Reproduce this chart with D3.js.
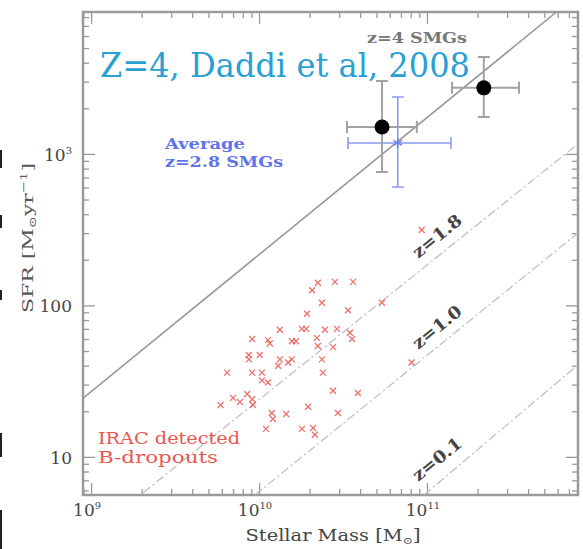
<!DOCTYPE html>
<html>
<head>
<meta charset="utf-8">
<script src="https://cdn.jsdelivr.net/npm/d3@7"></script>
<style>
  body { margin: 0; background: #fff; }
  text { font-family: "DejaVu Serif", serif; }
</style>
</head>
<body>
<svg width="583" height="549"></svg>
<script>
// axis ranges (stellar mass in Msun, SFR in Msun/yr)
const massDomain = [8.95e8, 7.93e11];
const sfrDomain = [5.6, 8650];
const xLabelValues = [1e9, 1e10, 1e11];
const xLabelExp = ['9', '10', '11'];
const yLabelValues = [1e3, 100, 10];
const yLabelText = [['10', '3'], ['100', ''], ['10', '']];

// SFR-mass relations, read as two end points each
const relationNames = ['z=4 SMGs', 'z=1.8', 'z=1.0', 'z=0.1'];
const relationMass = [[9.0e8, 5.9e11], [2.04e9, 7.93e11], [9.46e9, 7.93e11], [9.6e10, 7.93e11]];
const relationSfr = [[24.5, 8650], [5.8, 1164], [5.6, 301], [5.6, 40.5]];

// IRAC detected B-dropouts
const dropMass = [2.24e10, 2.83e10, 3.63e10, 2.07e10, 2.37e10, 1.93e10, 3.39e10, 5.40e10,
  1.33e10, 1.80e10, 1.91e10, 2.47e10, 2.91e10, 3.48e10, 3.58e10, 9.1e9, 1.13e10, 1.16e10,
  1.57e10, 1.66e10, 2.21e10, 2.24e10, 2.76e10, 8.7e9, 8.7e9, 1.01e10, 1.33e10, 1.30e10,
  1.49e10, 1.57e10, 2.37e10, 6.46e9, 9.1e9, 1.04e10, 1.04e10, 1.13e10, 2.40e10, 8.1e10,
  8.5e9, 7.0e9, 7.7e9, 9.1e9, 5.9e9, 9.2e9, 1.96e10, 1.45e10, 1.19e10, 1.21e10,
  2.76e10, 3.88e10, 2.95e10, 1.10e10, 1.80e10, 2.10e10, 2.15e10, 9.3e10];
const dropSfr = [141, 143, 143, 126, 104, 88, 93, 104,
  69, 70, 70, 69, 70, 66, 60, 60, 59, 56,
  58, 58, 61, 54, 53, 47, 44, 47, 44, 40,
  42, 44, 44, 36, 36, 36, 32, 31, 36, 42,
  26, 24.5, 23, 24, 22, 22, 21.4, 19.2, 19.5, 17.8,
  27.3, 26.4, 19.5, 15.3, 15.3, 15.5, 14.0, 315];

// z=4 SMGs with error bars
const smgMass = [5.4e10, 2.18e11];
const smgMassLo = [3.34e10, 1.41e11];
const smgMassHi = [8.7e10, 3.53e11];
const smgSfr = [1507, 2730];
const smgSfrLo = [760, 1755];
const smgSfrHi = [3030, 4365];

// average z=2.8 SMGs
const avgMass = [6.7e10];
const avgMassLo = [3.39e10];
const avgMassHi = [1.39e11];
const avgSfr = [1182];
const avgSfrLo = [605];
const avgSfrHi = [2377];

const svg = d3.select('svg');
const frameLeft = 83, frameRight = 578, frameTop = 12, frameBottom = 495;

const x = d3.scaleLog().domain(massDomain).range([frameLeft, frameRight]);
const y = d3.scaleLog().domain(sfrDomain).range([frameBottom, frameTop]);

const axisGrey = '#9a9a9a';
const isMajor = (v) => Math.abs(Math.log10(v) - Math.round(Math.log10(v))) < 1e-6;
const tickLen = (v) => isMajor(v) ? 12 : 6;

// ticks on all four sides, pointing inwards
function styleTicks(g, attr, sign) {
  g.select('.domain').remove();
  g.selectAll('.tick text').remove();
  g.selectAll('.tick line')
    .attr(attr, (d) => sign * tickLen(d))
    .attr('stroke', axisGrey)
    .attr('stroke-width', 1.3);
}
svg.append('g').attr('transform', `translate(0,${frameBottom})`)
  .call(d3.axisBottom(x).ticks(20)).call((g) => styleTicks(g, 'y2', -1));
svg.append('g').attr('transform', `translate(0,${frameTop})`)
  .call(d3.axisTop(x).ticks(20)).call((g) => styleTicks(g, 'y2', 1));
svg.append('g').attr('transform', `translate(${frameLeft},0)`)
  .call(d3.axisLeft(y).ticks(20)).call((g) => styleTicks(g, 'x2', 1));
svg.append('g').attr('transform', `translate(${frameRight},0)`)
  .call(d3.axisRight(y).ticks(20)).call((g) => styleTicks(g, 'x2', -1));

svg.append('rect')
  .attr('x', frameLeft).attr('y', frameTop)
  .attr('width', frameRight - frameLeft).attr('height', frameBottom - frameTop)
  .attr('fill', 'none')
  .attr('stroke', axisGrey)
  .attr('stroke-width', 2.5);

// tick labels
const xLab = svg.append('g').selectAll('text')
  .data(xLabelValues)
  .join('text')
  .attr('x', (d) => x(d) - 4)
  .attr('y', 516)
  .attr('text-anchor', 'middle')
  .attr('font-size', 17)
  .attr('fill', '#444');
xLab.append('tspan').text('10');
xLab.append('tspan')
  .attr('dy', -7)
  .attr('font-size', 10)
  .text((d, i) => xLabelExp[i]);

const yLab = svg.append('g').selectAll('text')
  .data(yLabelValues)
  .join('text')
  .attr('x', 72)
  .attr('y', (d) => y(d) + 7)
  .attr('text-anchor', 'end')
  .attr('font-size', 17)
  .attr('fill', '#444');
yLab.append('tspan').text((d, i) => yLabelText[i][0]);
yLab.append('tspan')
  .attr('dy', -7)
  .attr('font-size', 10)
  .text((d, i) => yLabelText[i][1]);

// axis titles
const xTitle = svg.append('text')
  .attr('x', 333).attr('y', 541)
  .attr('text-anchor', 'middle')
  .attr('font-size', 16)
  .attr('fill', '#444')
  .attr('textLength', 175)
  .attr('lengthAdjust', 'spacingAndGlyphs');
xTitle.append('tspan').text('Stellar Mass [M');
xTitle.append('tspan').attr('dy', 3).attr('font-size', 10).text('\u2299');
xTitle.append('tspan').attr('dy', -3).text(']');

const yTitle = svg.append('text')
  .attr('transform', 'translate(33,238) rotate(-90)')
  .attr('text-anchor', 'middle')
  .attr('font-size', 15)
  .attr('fill', '#555')
  .attr('textLength', 150)
  .attr('lengthAdjust', 'spacingAndGlyphs');
yTitle.append('tspan').text('SFR [M');
yTitle.append('tspan').attr('dy', 3).attr('font-size', 10).text('\u2299');
yTitle.append('tspan').attr('dy', -3).text('yr');
yTitle.append('tspan').attr('dy', -6).attr('font-size', 10).text('\u22121');
yTitle.append('tspan').attr('dy', 6).text(']');

// relation lines
const plot = svg.append('g');
plot.append('clipPath').attr('id', 'frame')
  .append('rect')
  .attr('x', frameLeft).attr('y', frameTop)
  .attr('width', frameRight - frameLeft).attr('height', frameBottom - frameTop);

const lineGen = d3.line().x((d) => x(d[0])).y((d) => y(d[1]));
const relations = relationNames.map((name, i) => ({
  name,
  pts: relationMass[i].map((m, j) => [m, relationSfr[i][j]])
}));
plot.append('g').attr('clip-path', 'url(#frame)')
  .selectAll('path')
  .data(relations)
  .join('path')
  .attr('d', (d) => lineGen(d.pts))
  .attr('fill', 'none')
  .attr('stroke', (d, i) => i === 0 ? '#999' : '#bdbdbd')
  .attr('stroke-width', (d, i) => i === 0 ? 1.6 : 1.2)
  .attr('stroke-dasharray', (d, i) => i === 0 ? null : '9,3,2,3');

// labels on the dashed relations
const lineLabelPos = [[437, 236], [437, 327], [437, 459]];
svg.append('g').selectAll('text')
  .data(relationNames.slice(1))
  .join('text')
  .attr('transform', (d, i) => `translate(${lineLabelPos[i][0]},${lineLabelPos[i][1]}) rotate(-39)`)
  .attr('text-anchor', 'middle')
  .attr('dy', 6)
  .attr('font-family', 'DejaVu Sans Mono')
  .attr('font-weight', 'bold')
  .attr('font-size', 17)
  .attr('fill', '#444')
  .attr('textLength', 58)
  .attr('lengthAdjust', 'spacingAndGlyphs')
  .text((d) => d);

// B-dropouts
const drops = dropMass.map((m, i) => [m, dropSfr[i]]);
plot.append('g')
  .selectAll('path')
  .data(drops)
  .join('path')
  .attr('transform', (d) => `translate(${x(d[0])},${y(d[1])})`)
  .attr('d', 'M-3,-3L3,3M-3,3L3,-3')
  .attr('stroke', '#ea5a52')
  .attr('stroke-width', 1.3)
  .attr('opacity', 0.85);

// error bars
function errorBars(mass, lo, hi, sfr, slo, shi, color, width, cap) {
  const g = plot.append('g')
    .attr('stroke', color)
    .attr('stroke-width', width)
    .attr('fill', 'none');
  mass.forEach((m, i) => {
    const cx = x(m), cy = y(sfr[i]);
    const x0 = x(lo[i]), x1 = x(hi[i]);
    const y0 = y(slo[i]), y1 = y(shi[i]);
    g.append('path').attr('d',
      `M${x0},${cy}H${x1}M${cx},${y0}V${y1}` +
      `M${x0},${cy - cap}V${cy + cap}M${x1},${cy - cap}V${cy + cap}` +
      `M${cx - cap},${y0}H${cx + cap}M${cx - cap},${y1}H${cx + cap}`);
  });
}
errorBars(avgMass, avgMassLo, avgMassHi, avgSfr, avgSfrLo, avgSfrHi, '#8b9cf0', 1.6, 6);
errorBars(smgMass, smgMassLo, smgMassHi, smgSfr, smgSfrLo, smgSfrHi, '#a2a2a2', 2, 6);

plot.append('g')
  .selectAll('path')
  .data(avgMass)
  .join('path')
  .attr('transform', (d, i) => `translate(${x(d)},${y(avgSfr[i])})`)
  .attr('d', d3.symbol(d3.symbolAsterisk, 70))
  .attr('fill', 'none')
  .attr('stroke', '#6f86ee')
  .attr('stroke-width', 1.4);

plot.append('g')
  .selectAll('circle')
  .data(smgMass)
  .join('circle')
  .attr('cx', (d) => x(d))
  .attr('cy', (d, i) => y(smgSfr[i]))
  .attr('r', 7.5)
  .attr('fill', '#000');

// annotations
svg.append('text')
  .attr('x', 417).attr('y', 43)
  .attr('text-anchor', 'middle')
  .attr('font-family', 'DejaVu Sans Mono')
  .attr('font-weight', 'bold')
  .attr('font-size', 14)
  .attr('fill', '#777')
  .attr('textLength', 100)
  .attr('lengthAdjust', 'spacingAndGlyphs')
  .text(relationNames[0]);

const avgNote = ['Average', 'z=2.8 SMGs'];
const avgNoteLen = [80, 118];
svg.append('g').selectAll('text')
  .data(avgNote)
  .join('text')
  .attr('x', 165)
  .attr('y', (d, i) => 149 + i * 18)
  .attr('font-family', 'DejaVu Sans Mono')
  .attr('font-weight', 'bold')
  .attr('font-size', 14)
  .attr('fill', '#5f74ec')
  .attr('textLength', (d, i) => avgNoteLen[i])
  .attr('lengthAdjust', 'spacingAndGlyphs')
  .text((d) => d);

const dropNote = ['IRAC detected', 'B-dropouts'];
const dropNoteLen = [142, 120];
svg.append('g').selectAll('text')
  .data(dropNote)
  .join('text')
  .attr('x', 98)
  .attr('y', (d, i) => 444 + i * 19)
  .attr('font-family', 'DejaVu Sans Mono')
  .attr('font-size', 17)
  .attr('fill', '#e8574f')
  .attr('textLength', (d, i) => dropNoteLen[i])
  .attr('lengthAdjust', 'spacingAndGlyphs')
  .text((d) => d);

svg.append('text')
  .attr('x', 100).attr('y', 77)
  .attr('font-family', '"Open Sans", Lato, sans-serif')
  .attr('font-weight', 300)
  .attr('font-size', 34)
  .attr('fill', '#2a9fd6')
  .attr('textLength', 370)
  .attr('lengthAdjust', 'spacingAndGlyphs')
  .text('Z=4, Daddi et al, 2008');

// slivers of the neighbouring slide at the left edge
const edgeBits = [[150, 18], [215, 13], [290, 10], [433, 24], [510, 39]];
svg.append('g').selectAll('rect')
  .data(edgeBits)
  .join('rect')
  .attr('x', 0).attr('y', (d) => d[0])
  .attr('width', 2).attr('height', (d) => d[1])
  .attr('fill', '#222');
</script>
</body>
</html>
